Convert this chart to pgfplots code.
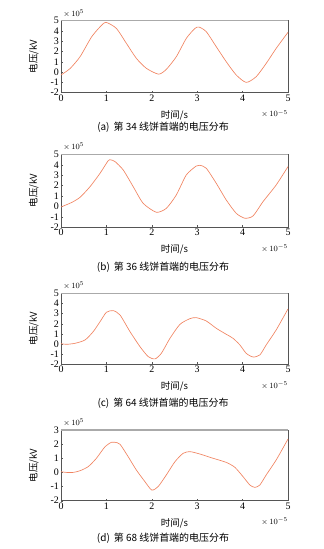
\documentclass[border=0pt]{standalone}
\usepackage{fontspec}
\setmainfont{Liberation Serif}
\newfontfamily\cjk{Noto Sans CJK SC}
\usepackage{pgfplots}
\pgfplotsset{compat=1.18}
\definecolor{curve}{RGB}{240,130,95}
\definecolor{frame}{RGB}{85,85,85}
\definecolor{topframe}{RGB}{170,170,170}
\pgfplotsset{
  panel/.style={
    scale only axis, width=227bp,
    xmin=0, xmax=5, xtick={0,1,2,3,4,5},
    axis line style={frame, line width=0.6pt},
    tick align=inside, major tick length=2bp,
    xtick pos=bottom, ytick pos=left,
    tick style={frame, line width=0.4pt},
    /pgf/number format/assume math mode=true,
    tick label style={font=\fontsize{10}{10}\selectfont},
    xticklabel style={yshift=1.5bp},
    yticklabel style={xshift=1.5bp},
    ylabel={\cjk\fontsize{9.5}{10}\selectfont 电压/kV},
    xlabel={\cjk\fontsize{9.5}{10}\selectfont 时间/s},
    ylabel style={at={(rel axis cs:0,0.5)}, anchor=south, yshift=19bp},
    xlabel style={at={(rel axis cs:0.5,0)}, anchor=north, yshift=-14bp},
    clip=false,
  },
  curvestyle/.style={color=curve, line width=0.65pt, smooth, tension=0.4, no marks},
}
\newcommand{\decor}{%
  \draw[topframe, line width=1.6pt] (rel axis cs:0,1) -- (rel axis cs:1,1);
  \node[anchor=south west, inner sep=0pt, font=\fontsize{8.5}{9}\selectfont] at (rel axis cs:0.01,1.05) {$\times\,10^{5}$};
  \node[anchor=north east, inner sep=0pt, font=\fontsize{8.5}{9}\selectfont] at (rel axis cs:1,-0.24) {$\times\,10^{-5}$};
}
\begin{document}
\begin{tikzpicture}
\path (0,0) rectangle (324bp,549bp);
% (a)
\begin{axis}[panel, at={(61bp,456.3bp)}, anchor=south west, height=72bp,
  ymin=-2, ymax=5, ytick={-2,-1,0,1,2,3,4,5}]
\addplot[curvestyle] coordinates {
(0,-0.28) (0.2,0.35) (0.42,1.5) (0.67,3.4) (0.86,4.4) (0.99,4.84) (1.22,4.25)
(1.44,2.8) (1.66,1.34) (1.88,0.37) (2.15,-0.2) (2.32,0.27) (2.54,1.5) (2.76,3.28)
(2.95,4.25) (3.04,4.38) (3.2,3.93) (3.42,2.47) (3.64,1.01) (3.86,-0.28) (4.08,-1.0)
(4.3,-0.44) (4.52,0.85) (4.74,2.31) (5,3.87)};
\decor
\end{axis}
\node[font=\cjk\fontsize{10}{10}\selectfont] at (163bp,421.3bp) {(a)\hspace{0.4em}第 34 线饼首端的电压分布};
% (b)
\begin{axis}[panel, at={(61bp,321.7bp)}, anchor=south west, height=73bp,
  ymin=-2, ymax=5, ytick={-2,-1,0,1,2,3,4,5}]
\addplot[curvestyle] coordinates {
(0,-0.05) (0.23,0.37) (0.42,0.88) (0.64,1.9) (0.86,3.18) (1.04,4.39) (1.1,4.46) (1.19,4.3)
(1.37,3.5) (1.59,1.9) (1.81,0.3) (2.1,-0.56) (2.32,-0.18) (2.54,1.1) (2.76,3.02)
(2.98,3.88) (3.06,3.95) (3.2,3.66) (3.42,2.22) (3.64,0.62) (3.86,-0.66) (4.05,-1.13)
(4.23,-0.91) (4.45,0.46) (4.74,2.06) (5,3.82)};
\decor
\end{axis}
\node[font=\cjk\fontsize{10}{10}\selectfont] at (163bp,282bp) {(b)\hspace{0.4em}第 36 线饼首端的电压分布};
% (c)
\begin{axis}[panel, at={(61bp,184.7bp)}, anchor=south west, height=71bp,
  ymin=-2, ymax=5, ytick={-2,-1,0,1,2,3,4,5}]
\addplot[curvestyle] coordinates {
(0,0.03) (0.12,-0.03) (0.31,0.07) (0.53,0.4) (0.71,1.22) (0.86,2.2) (1.0,3.13)
(1.15,3.29) (1.3,2.86) (1.52,1.22) (1.74,-0.26) (1.92,-1.24) (2.07,-1.47) (2.21,-0.92)
(2.4,0.56) (2.62,1.94) (2.84,2.5) (2.98,2.6) (3.2,2.27) (3.42,1.55) (3.64,0.96)
(3.79,0.56) (3.94,-0.09) (4.08,-0.92) (4.23,-1.28) (4.38,-1.08) (4.52,-0.09)
(4.74,1.39) (5,3.46)};
\decor
\end{axis}
\node[font=\cjk\fontsize{10}{10}\selectfont] at (163bp,146bp) {(c)\hspace{0.4em}第 64 线饼首端的电压分布};
% (d)
\begin{axis}[panel, at={(61bp,48.3bp)}, anchor=south west, height=70.7bp,
  ymin=-2, ymax=3, ytick={-2,-1,0,1,2,3}]
\addplot[curvestyle] coordinates {
(0,0.05) (0.12,0.0) (0.27,0.0) (0.42,0.12) (0.6,0.41) (0.78,1.0) (0.97,1.82)
(1.11,2.13) (1.19,2.13) (1.3,1.99) (1.48,1.11) (1.66,0.17) (1.85,-0.66) (2.0,-1.25)
(2.14,-1.0) (2.32,-0.18) (2.51,0.76) (2.69,1.35) (2.84,1.47) (3.06,1.3) (3.35,1.0)
(3.64,0.71) (3.83,0.36) (4.01,-0.3) (4.16,-0.89) (4.27,-1.06) (4.38,-0.89)
(4.52,-0.18) (4.74,0.88) (5,2.36)};
\decor
\end{axis}
\node[font=\cjk\fontsize{10}{10}\selectfont] at (163bp,11bp) {(d)\hspace{0.4em}第 68 线饼首端的电压分布};
\end{tikzpicture}
\end{document}
